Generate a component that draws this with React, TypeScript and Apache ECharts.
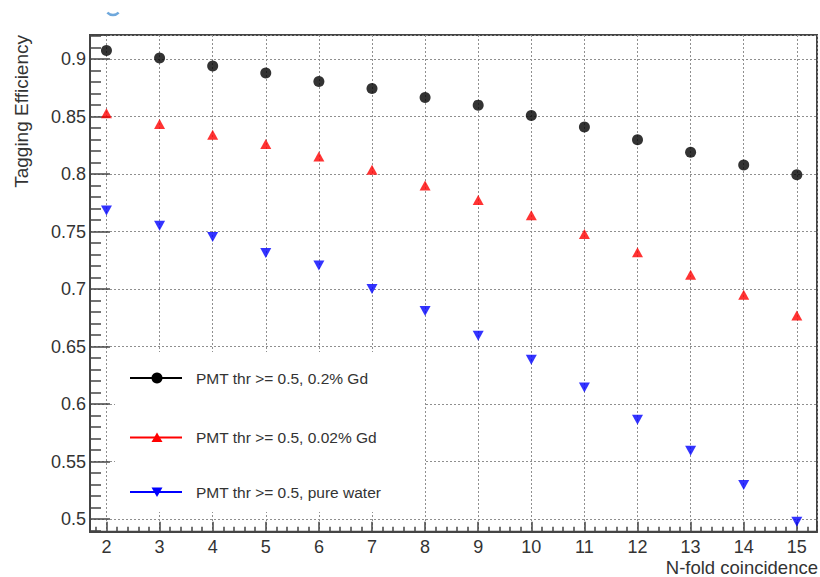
import React, { useEffect, useRef } from "react";
import * as echarts from "echarts";

const nFold = [2, 3, 4, 5, 6, 7, 8, 9, 10, 11, 12, 13, 14, 15];
const gd02 = [0.9075, 0.901, 0.894, 0.888, 0.8805, 0.8745, 0.8666, 0.86, 0.851, 0.841, 0.8298, 0.8191, 0.808, 0.7994];
const gd002 = [0.853, 0.8435, 0.8342, 0.8263, 0.8153, 0.8037, 0.79, 0.7776, 0.7643, 0.748, 0.732, 0.7125, 0.695, 0.677];
const pureWater = [0.7683, 0.755, 0.7454, 0.7313, 0.7205, 0.7, 0.681, 0.6594, 0.6385, 0.6145, 0.5864, 0.5594, 0.5296, 0.4976];
const seriesNames = ["PMT thr >= 0.5, 0.2% Gd", "PMT thr >= 0.5, 0.02% Gd", "PMT thr >= 0.5, pure water"];
const seriesColors = ["#000000", "#ff0000", "#0000ff"];
const xTitle = "N-fold coincidence";
const yTitle = "Tagging Efficiency";

const FONT = "'Liberation Sans', Arial, Helvetica, sans-serif";

export default function App() {
  const ref = useRef<HTMLDivElement>(null);
  useEffect(() => {
    if (!ref.current) return;
    const chart = echarts.init(ref.current, undefined, { renderer: "svg" });
    const toPairs = (ys: number[]) => nFold.map((x, i) => [x, ys[i]]);
    const gridLine = { show: true, lineStyle: { color: "#8f8f8f", width: 1, type: [2, 2] as any } };
    const legendRows = [378, 437.5, 492];
    const legendGraphics: any[] = [
      { type: "rect", z: 50, shape: { x: 115, y: 352, width: 310, height: 160 }, style: { fill: "#ffffff" } },
    ];
    legendRows.forEach((r, i) => {
      const c = seriesColors[i];
      legendGraphics.push({ type: "line", z: 51, shape: { x1: 130, y1: r, x2: 182, y2: r }, style: { stroke: c, lineWidth: 2 } });
      if (i === 0) {
        legendGraphics.push({ type: "circle", z: 52, shape: { cx: 157, cy: r, r: 5.5 }, style: { fill: c } });
      } else if (i === 1) {
        legendGraphics.push({ type: "polygon", z: 52, shape: { points: [[151.5, r + 4.5], [162.5, r + 4.5], [157, r - 5]] }, style: { fill: c } });
      } else {
        legendGraphics.push({ type: "polygon", z: 52, shape: { points: [[151.5, r - 4.5], [162.5, r - 4.5], [157, r + 5]] }, style: { fill: c } });
      }
      legendGraphics.push({
        type: "text", z: 52, x: 196, y: r,
        style: { text: seriesNames[i], fontSize: 15.5, fontFamily: FONT, fill: "#333", verticalAlign: "middle", align: "left" },
      });
    });

    chart.setOption({
      animation: false,
      backgroundColor: "#ffffff",
      grid: { left: 90, top: 35, right: 1.5, bottom: 45.3, show: true, borderColor: "#444", borderWidth: 2, backgroundColor: "transparent" },
      xAxis: {
        type: "value",
        min: 1.69,
        max: 15.38,
        splitNumber: 14,
        minInterval: 1,
        maxInterval: 1,
        axisLine: { show: true, onZero: false, lineStyle: { color: "#444", width: 2 } },
        axisTick: { show: true, inside: true, length: 10, lineStyle: { color: "#444", width: 1.5 } },
        minorTick: { show: true, splitNumber: 5, length: 5, lineStyle: { color: "#444", width: 1.5 } },
        splitLine: gridLine,
        axisLabel: {
          margin: 6, fontSize: 18, lineHeight: 19, fontFamily: FONT, color: "#333",
          formatter: (v: number) => (Math.abs(v - Math.round(v)) < 1e-6 ? String(Math.round(v)) : ""),
        },
      },
      yAxis: {
        type: "value",
        min: 0.489,
        max: 0.921,
        splitNumber: 9,
        minInterval: 0.05,
        maxInterval: 0.05,
        axisLine: { show: true, onZero: false, lineStyle: { color: "#444", width: 2 } },
        axisTick: { show: true, inside: true, length: 20, lineStyle: { color: "#444", width: 1.5 } },
        minorTick: { show: true, splitNumber: 5, length: 11, lineStyle: { color: "#444", width: 1.5 } },
        splitLine: gridLine,
        axisLabel: {
          margin: 4, fontSize: 18, fontFamily: FONT, color: "#333",
          formatter: (v: number) => {
            const k = Math.round(v / 0.05);
            return Math.abs(v - k * 0.05) < 1e-6 ? String(+(k * 0.05).toFixed(2)) : "";
          },
        },
      },
      series: [
        { name: seriesNames[0], type: "scatter", data: toPairs(gd02), symbol: "circle", symbolSize: 11, itemStyle: { color: seriesColors[0] }, z: 10 },
        { name: seriesNames[1], type: "scatter", data: toPairs(gd002), symbol: "triangle", symbolSize: [11, 10], itemStyle: { color: seriesColors[1] }, z: 10 },
        { name: seriesNames[2], type: "scatter", data: toPairs(pureWater), symbol: "triangle", symbolRotate: 180, symbolSize: [11, 10], itemStyle: { color: seriesColors[2] }, z: 10 },
      ],
      graphic: [
        ...legendGraphics,
        {
          type: "text", z: 60, x: 818, y: 567,
          style: { text: xTitle, fontSize: 18.5, lineHeight: 18, fontFamily: FONT, fill: "#333", align: "right", verticalAlign: "middle" },
        },
        {
          type: "text", z: 60, x: 21, y: 35, rotation: Math.PI / 2,
          style: { text: yTitle, fontSize: 19, fontFamily: FONT, fill: "#333", align: "right", verticalAlign: "middle" },
        },
        {
          type: "arc", z: 60, shape: { cx: 113, cy: 7, r: 8, startAngle: Math.PI * 0.25, endAngle: Math.PI * 0.75 },
          style: { stroke: "#6fa8dc", lineWidth: 2.5, fill: "none" },
        },
      ],
    });
    return () => chart.dispose();
  }, []);
  return <div ref={ref} style={{ position: "absolute", left: 0, top: 0, width: 820, height: 577 }} />;
}
